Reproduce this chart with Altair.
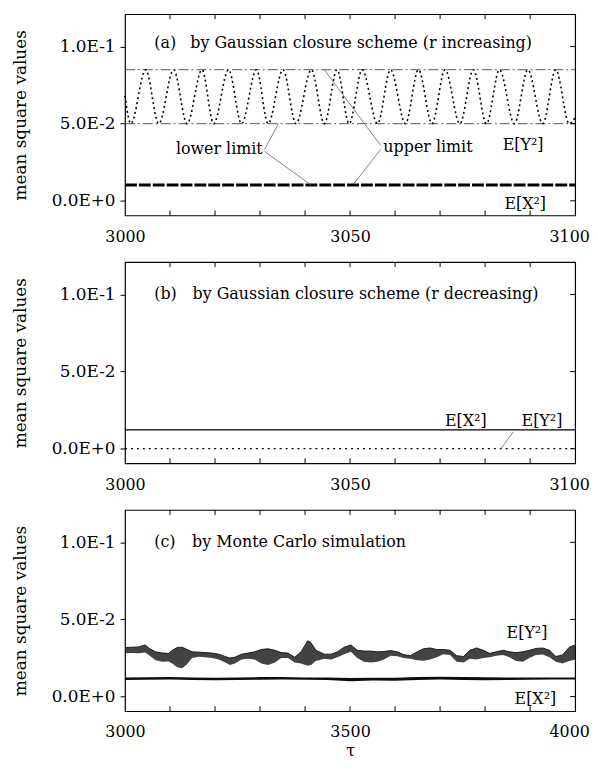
import altair as alt
import pandas as pd

FONT = "DejaVu Serif"
FS = 16
W, H = 454, 203

# ---------------- data ----------------
# panel (a)
a_lim_tau = [3000, 3100]
a_upper_limit = [0.085, 0.085]
a_lower_limit = [0.050, 0.050]
a_ex2 = [0.0102, 0.0102]
a_y_tau = [3000.0, 3001.3, 3004.6, 3007.5, 3010.8, 3013.8, 3017.1, 3019.7, 3023.0,
           3025.9, 3029.2, 3031.8, 3035.1, 3038.0, 3041.4, 3044.3, 3047.1, 3049.8,
           3052.7, 3056.1, 3059.0, 3062.3, 3065.2, 3068.2, 3071.1, 3074.4, 3077.4,
           3080.3, 3083.2, 3086.5, 3089.5, 3092.8, 3095.7, 3098.7, 3100.0]
a_y_val = [0.068, 0.050, 0.085, 0.050, 0.085, 0.050, 0.085, 0.050, 0.085,
           0.050, 0.085, 0.050, 0.085, 0.050, 0.085, 0.050, 0.085, 0.050,
           0.085, 0.050, 0.085, 0.050, 0.085, 0.050, 0.085, 0.050, 0.085,
           0.050, 0.085, 0.050, 0.085, 0.050, 0.085, 0.050, 0.054]

# panel (b)
b_tau = [3000, 3100]
b_ex2 = [0.0122, 0.0122]
b_ey2 = [0.0, 0.0]

# panel (c)
c_y_tau = [3000, 3015, 3030, 3045, 3055, 3068, 3083, 3097, 3105, 3116, 3127, 3138,
           3149, 3164, 3178, 3193, 3208, 3222, 3233, 3244, 3259, 3274, 3288, 3303,
           3318, 3333, 3347, 3362, 3377, 3391, 3406, 3413, 3424, 3443, 3458, 3472,
           3487, 3502, 3516, 3531, 3546, 3561, 3575, 3590, 3605, 3619, 3634, 3649,
           3663, 3678, 3693, 3707, 3722, 3737, 3752, 3766, 3781, 3796, 3810, 3825,
           3840, 3854, 3869, 3884, 3898, 3913, 3928, 3943, 3957, 3972, 3987, 4000]
c_y_upper = [0.0318, 0.0320, 0.0322, 0.0335, 0.0310, 0.0290, 0.0282, 0.0280, 0.0300, 0.0318, 0.0320, 0.0305,
             0.0290, 0.0288, 0.0285, 0.0282, 0.0275, 0.0260, 0.0250, 0.0255, 0.0275, 0.0282, 0.0290, 0.0305,
             0.0310, 0.0300, 0.0285, 0.0282, 0.0255, 0.0290, 0.0362, 0.0350, 0.0300, 0.0275, 0.0275, 0.0290,
             0.0320, 0.0335, 0.0300, 0.0295, 0.0295, 0.0290, 0.0292, 0.0298, 0.0290, 0.0272, 0.0265, 0.0290,
             0.0310, 0.0315, 0.0305, 0.0305, 0.0300, 0.0265, 0.0260, 0.0300, 0.0315, 0.0300, 0.0280, 0.0290,
             0.0300, 0.0290, 0.0285, 0.0290, 0.0300, 0.0312, 0.0315, 0.0300, 0.0260, 0.0270, 0.0320, 0.0335]
c_y_lower = [0.0280, 0.0282, 0.0280, 0.0285, 0.0265, 0.0235, 0.0225, 0.0228, 0.0215, 0.0190, 0.0184, 0.0210,
             0.0250, 0.0258, 0.0255, 0.0250, 0.0240, 0.0222, 0.0205, 0.0215, 0.0240, 0.0245, 0.0240, 0.0215,
             0.0205, 0.0220, 0.0250, 0.0250, 0.0220, 0.0215, 0.0200, 0.0205, 0.0230, 0.0245, 0.0240, 0.0255,
             0.0275, 0.0290, 0.0250, 0.0225, 0.0220, 0.0225, 0.0240, 0.0265, 0.0262, 0.0250, 0.0245, 0.0235,
             0.0232, 0.0240, 0.0255, 0.0275, 0.0270, 0.0225, 0.0220, 0.0245, 0.0240, 0.0250, 0.0255, 0.0265,
             0.0270, 0.0255, 0.0230, 0.0225, 0.0250, 0.0270, 0.0272, 0.0255, 0.0225, 0.0215, 0.0230, 0.0240]
c_x_tau = [3000, 3050, 3100, 3150, 3200, 3250, 3300, 3350, 3400, 3450, 3500,
           3550, 3600, 3650, 3700, 3750, 3800, 3850, 3900, 3950, 4000]
c_x_upper = [0.0123, 0.0125, 0.0127, 0.0124, 0.0122, 0.0123, 0.0126, 0.0127, 0.0124, 0.0123, 0.0120,
             0.0122, 0.0122, 0.0126, 0.0128, 0.0127, 0.0125, 0.0123, 0.0124, 0.0123, 0.0123]
c_x_lower = [0.0108, 0.0109, 0.0111, 0.0108, 0.0105, 0.0107, 0.0109, 0.0110, 0.0109, 0.0108, 0.0100,
             0.0104, 0.0102, 0.0108, 0.0111, 0.0108, 0.0106, 0.0108, 0.0109, 0.0110, 0.0111]

# axes
y_domain = [-0.0095, 0.121]
y_tick_vals = [0.0, 0.05, 0.1]
y_tick_labels = ["0.0E+0", "5.0E-2", "1.0E-1"]
ab_x_labels = [3000, 3050, 3100]
ab_minor = [3010, 3020, 3030, 3040, 3050, 3060, 3070, 3080, 3090]
c_x_labels = [3000, 3500, 4000]
c_minor = [3100, 3200, 3300, 3400, 3500, 3600, 3700, 3800, 3900]

# annotations
a_text_tau = [3006.5, 3014.5, 3030.6, 3057.4, 3083.9, 3084.3]
a_text_val = [0.1026, 0.1026, 0.0333, 0.0346, 0.0359, -0.0019]
a_text_lab = ["(a)", "by Gaussian closure scheme (r increasing)", "lower limit",
              "upper limit", "E[Y²]", "E[X²]"]
a_text_align = ["left", "left", "right", "left", "left", "left"]
a_lead_tau = [3031.0, 3031.0, 3056.8, 3056.8]
a_lead_val = [0.0333, 0.0320, 0.0359, 0.0333]
a_lead_tau2 = [3034.1, 3041.3, 3044.2, 3050.8]
a_lead_val2 = [0.0500, 0.0103, 0.0853, 0.0109]

b_text_tau = [3006.5, 3015.0, 3071.1, 3088.1]
b_text_val = [0.1005, 0.1005, 0.0180, 0.0180]
b_text_lab = ["(b)", "by Gaussian closure scheme  (r decreasing)", "E[X²]", "E[Y²]"]
b_lead_tau = [3086.3]
b_lead_val = [0.0109]
b_lead_tau2 = [3083.5]
b_lead_val2 = [0.0]

c_text_tau = [3065, 3149, 3847.8, 3865.5]
c_text_val = [0.1000, 0.1000, 0.0410, -0.0013]
c_text_lab = ["(c)", "by Monte Carlo simulation", "E[Y²]", "E[X²]"]

# ---------------- helpers ----------------
lab_expr = ""
for v, l in zip(y_tick_vals[:-1], y_tick_labels[:-1]):
    lab_expr += f"abs(datum.value - {v}) < 0.001 ? '{l}' : "
lab_expr += f"'{y_tick_labels[-1]}'"

yscale = alt.Scale(domain=y_domain, nice=False, zero=False)
yaxis = alt.Axis(values=y_tick_vals, labelExpr=lab_expr, title="mean square values",
                 tickSize=5, ticks=True, domain=False, grid=False, labelPadding=5,
                 labelFontSize=17, titlePadding=22, tickColor="black")


def Y(field="val"):
    return alt.Y(f"{field}:Q", scale=yscale, axis=yaxis)


def make_x(domain, labels, title):
    sc = alt.Scale(domain=domain, nice=False, zero=False)
    last = labels[-1]
    ax = alt.Axis(values=labels, format="d", ticks=False, domain=False, grid=False,
                  labelFlush=False, labelPadding=13, title=title, titlePadding=3,
                  titleFontSize=16,
                  labelOffset={"condition": {"test": f"datum.value >= {last}", "value": -6},
                               "value": 0})
    return sc, ax


def frame_ticks(minor, xs, xa):
    tdf = pd.DataFrame({"tau": minor})
    ydf = pd.DataFrame({"val": y_tick_vals})
    X = alt.X("tau:Q", scale=xs, axis=xa)
    bottom = alt.Chart(tdf).mark_rule(color="black", strokeWidth=1).encode(
        x=X, y=alt.value(H), y2=alt.value(H - 5))
    top = alt.Chart(tdf).mark_rule(color="black", strokeWidth=1).encode(
        x=X, y=alt.value(0), y2=alt.value(5))
    right = alt.Chart(ydf).mark_rule(color="black", strokeWidth=1).encode(
        y=Y(), x=alt.value(W), x2=alt.value(W - 5))
    return [bottom, top, right]


def texts(taus, vals, labs, xs, xa, aligns=None):
    if aligns is None:
        aligns = ["left"] * len(labs)
    out = []
    for al in ["left", "right"]:
        idx = [i for i, a in enumerate(aligns) if a == al]
        if not idx:
            continue
        df = pd.DataFrame({"tau": [taus[i] for i in idx], "val": [vals[i] for i in idx],
                           "label": [labs[i] for i in idx]})
        out.append(alt.Chart(df).mark_text(align=al, baseline="middle", font=FONT,
                                           fontSize=FS, color="black").encode(
            x=alt.X("tau:Q", scale=xs, axis=xa), y=Y(), text="label:N"))
    return out


def leaders(t1, v1, t2, v2, xs, xa):
    df = pd.DataFrame({"tau": t1, "val": v1, "tau2": t2, "val2": v2})
    return alt.Chart(df).mark_rule(color="#666", strokeWidth=0.8).encode(
        x=alt.X("tau:Q", scale=xs, axis=xa), x2="tau2:Q", y=Y(), y2="val2:Q")


# ---------------- panel (a) ----------------
xs_a, xa_a = make_x([3000, 3100], ab_x_labels, None)
Xa = alt.X("tau:Q", scale=xs_a, axis=xa_a)
lim_df = pd.DataFrame({"tau": a_lim_tau * 2, "val": a_upper_limit + a_lower_limit,
                       "which": ["upper"] * 2 + ["lower"] * 2})
a_lim = alt.Chart(lim_df).mark_line(color="#555", strokeWidth=1, strokeDash=[10, 3, 2, 3]).encode(
    x=Xa, y=Y(), detail="which:N")
a_osc = alt.Chart(pd.DataFrame({"tau": a_y_tau, "val": a_y_val})).mark_line(
    color="black", strokeWidth=1.6, strokeDash=[2, 3], interpolate="monotone").encode(x=Xa, y=Y())
a_x2 = alt.Chart(pd.DataFrame({"tau": a_lim_tau, "val": a_ex2})).mark_line(
    color="black", strokeWidth=3, strokeDash=[12, 2]).encode(x=Xa, y=Y())
panel_a = alt.layer(
    a_lim, a_osc, a_x2,
    leaders(a_lead_tau, a_lead_val, a_lead_tau2, a_lead_val2, xs_a, xa_a),
    *texts(a_text_tau, a_text_val, a_text_lab, xs_a, xa_a, a_text_align),
    *frame_ticks(ab_minor, xs_a, xa_a),
).properties(width=W, height=H)

# ---------------- panel (b) ----------------
xs_b, xa_b = make_x([3000, 3100], ab_x_labels, None)
Xb = alt.X("tau:Q", scale=xs_b, axis=xa_b)
b_x2 = alt.Chart(pd.DataFrame({"tau": b_tau, "val": b_ex2})).mark_line(
    color="black", strokeWidth=1.2).encode(x=Xb, y=Y())
b_y2 = alt.Chart(pd.DataFrame({"tau": b_tau, "val": b_ey2})).mark_line(
    color="black", strokeWidth=1.4, strokeDash=[2, 4]).encode(x=Xb, y=Y())
panel_b = alt.layer(
    b_x2, b_y2,
    leaders(b_lead_tau, b_lead_val, b_lead_tau2, b_lead_val2, xs_b, xa_b),
    *texts(b_text_tau, b_text_val, b_text_lab, xs_b, xa_b),
    *frame_ticks(ab_minor, xs_b, xa_b),
).properties(width=W, height=H)

# ---------------- panel (c) ----------------
xs_c, xa_c = make_x([3000, 4000], c_x_labels, "τ")
Xc = alt.X("tau:Q", scale=xs_c, axis=xa_c)
c_y = alt.Chart(pd.DataFrame({"tau": c_y_tau, "val": c_y_upper, "val2": c_y_lower})).mark_area(
    color="#222", opacity=0.85, line={"color": "black", "strokeWidth": 0.8}).encode(
    x=Xc, y=Y(), y2="val2:Q")
c_x = alt.Chart(pd.DataFrame({"tau": c_x_tau, "val": c_x_upper, "val2": c_x_lower})).mark_area(
    color="black", opacity=0.95).encode(x=Xc, y=Y(), y2="val2:Q")
panel_c = alt.layer(
    c_y, c_x,
    *texts(c_text_tau, c_text_val, c_text_lab, xs_c, xa_c),
    *frame_ticks(c_minor, xs_c, xa_c),
).properties(width=W, height=H)

chart = alt.vconcat(panel_a, panel_b, panel_c, spacing=15).properties(
    padding={"left": 2, "top": 1, "right": 0, "bottom": 0},
    background="white",
).configure_view(stroke="black", strokeWidth=1.2).configure_axis(
    labelFont=FONT, labelFontSize=FS, labelColor="black",
    titleFont=FONT, titleFontSize=FS + 1, titleFontWeight="normal", titleColor="black",
)

chart.save("out.html", embed_options={"renderer": "svg", "actions": False})
